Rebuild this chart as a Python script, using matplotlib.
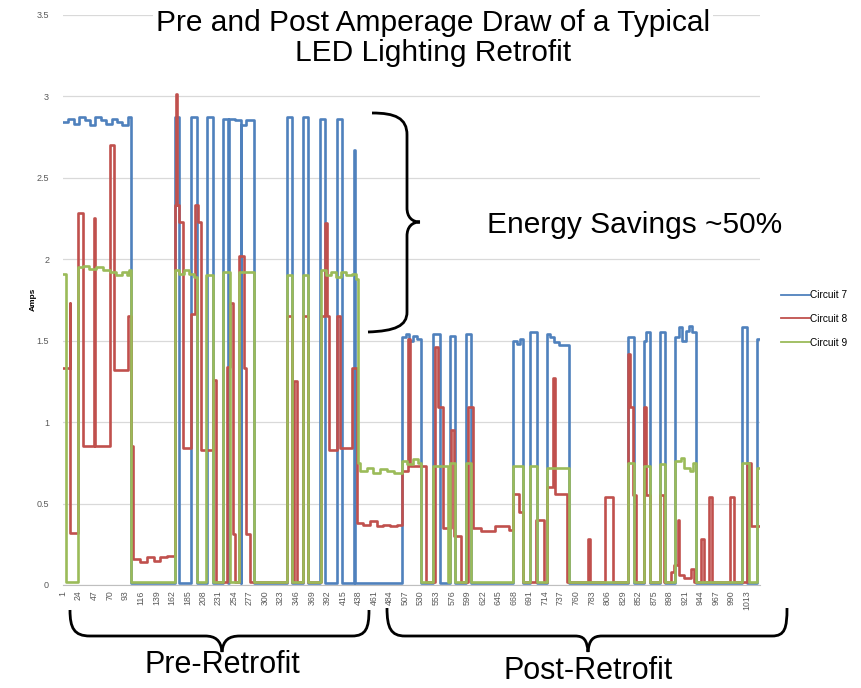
import matplotlib
matplotlib.use("Agg")
import matplotlib.pyplot as plt
from matplotlib.path import Path
from matplotlib.patches import PathPatch

plt.rcParams['font.family'] = ['Liberation Sans', 'DejaVu Sans']

# change points: (sample number, amps), held until the next point
c7_x = [1, 9, 17, 25, 33, 41, 49, 57, 65, 73, 81, 89, 97, 101,
        166, 173, 190, 199, 214, 223, 238, 245, 246, 256, 264, 265, 272, 283,
        333, 340, 356, 364, 381, 388, 406, 413, 431, 433,
        503, 508, 513, 518, 524, 531, 549, 558, 573, 581, 597, 605,
        667, 672, 677, 682, 692, 702, 717, 722, 728, 735, 749,
        837, 845, 860, 864, 869, 884, 892, 907, 912, 917, 922, 927, 932, 938,
        1006, 1013, 1027, 1032]
c7_y = [2.84, 2.86, 2.83, 2.87, 2.85, 2.82, 2.87, 2.85, 2.83, 2.86, 2.84, 2.82, 2.87, 0.01,
        2.87, 0.01, 2.87, 0.01, 2.87, 0.01, 2.86, 0.01, 2.86, 2.85, 0.01, 2.82, 2.85, 0.01,
        2.87, 0.01, 2.87, 0.01, 2.86, 0.01, 2.86, 0.01, 2.67, 0.01,
        1.52, 1.54, 1.50, 1.53, 1.51, 0.01, 1.54, 0.01, 1.53, 0.01, 1.54, 0.01,
        1.50, 1.48, 1.51, 0.01, 1.55, 0.01, 1.54, 1.52, 1.49, 1.47, 0.01,
        1.52, 0.01, 1.50, 1.55, 0.01, 1.55, 0.01, 1.52, 1.58, 1.50, 1.56, 1.59, 1.55, 0.01,
        1.58, 0.01, 1.51, 1.51]

c8_x = [1, 11, 12, 23, 31, 47, 49, 71, 77, 97, 101, 104, 115, 125, 135, 145, 155,
        166, 168, 169, 173, 178, 191, 196, 201, 205, 223, 228,
        243, 248, 253, 256, 262, 268, 271, 278,
        333, 340, 343, 347, 356, 364, 383, 388, 391, 394, 406, 411, 428,
        436, 445, 455, 465, 475, 485, 495, 503, 511, 514, 538,
        551, 556, 563, 575, 580, 590, 600, 607, 620, 640, 660,
        667, 675, 682, 700, 712, 717, 726, 729, 746,
        778, 780, 802, 815, 837, 840, 844, 848, 860, 864, 870, 884, 890,
        900, 905, 910, 912, 920, 930, 935, 944, 949, 956, 961, 988, 993,
        1013, 1018, 1032]
c8_y = [1.33, 1.73, 0.32, 2.28, 0.85, 2.25, 0.85, 2.70, 1.32, 1.65, 0.85, 0.16, 0.14, 0.17, 0.15, 0.17, 0.18,
        2.33, 3.01, 2.33, 2.23, 0.84, 1.66, 2.33, 2.23, 0.83, 1.26, 0.02,
        1.34, 1.73, 0.31, 0.02, 2.02, 1.33, 0.31, 0.02,
        1.65, 0.02, 1.25, 0.02, 1.65, 0.02, 1.65, 2.22, 1.65, 0.83, 1.65, 0.84, 1.33,
        0.38, 0.37, 0.39, 0.36, 0.37, 0.36, 0.37, 0.70, 1.51, 0.73, 0.02,
        1.46, 1.09, 0.35, 0.95, 0.30, 0.02, 1.09, 0.35, 0.33, 0.36, 0.34,
        0.56, 0.45, 0.02, 0.40, 0.02, 0.60, 1.27, 0.56, 0.02,
        0.28, 0.02, 0.54, 0.02, 1.42, 1.09, 0.55, 0.02, 1.09, 0.55, 0.02, 0.55, 0.02,
        0.08, 0.12, 0.40, 0.06, 0.04, 0.10, 0.02, 0.28, 0.02, 0.54, 0.02, 0.54, 0.02,
        0.75, 0.36, 0.36]

c9_x = [1, 6, 23, 30, 40, 50, 60, 70, 80, 88, 95, 99, 101,
        166, 172, 180, 188, 195, 199, 213, 223, 238, 248, 262, 283,
        333, 340, 356, 364, 383, 390, 398, 405, 412, 420, 428, 435,
        437, 440, 450, 460, 470, 480, 490, 503, 510, 518, 526, 531,
        549, 571, 574, 581, 597, 605, 667, 682, 692, 702, 717, 749,
        837, 845, 860, 869, 884, 892, 907, 915, 920, 928, 933, 938,
        1006, 1015, 1027, 1032]
c9_y = [1.91, 0.02, 1.95, 1.96, 1.94, 1.95, 1.93, 1.92, 1.90, 1.92, 1.90, 1.93, 0.02,
        1.93, 1.91, 1.93, 1.91, 1.89, 0.02, 1.90, 0.02, 1.92, 0.02, 1.92, 0.02,
        1.90, 0.02, 1.90, 0.02, 1.93, 1.90, 1.92, 1.89, 1.92, 1.90, 1.91, 1.88,
        0.75, 0.70, 0.72, 0.69, 0.71, 0.70, 0.69, 0.76, 0.74, 0.77, 0.75, 0.02,
        0.73, 0.02, 0.75, 0.02, 0.75, 0.02, 0.73, 0.02, 0.73, 0.02, 0.72, 0.02,
        0.75, 0.02, 0.73, 0.02, 0.74, 0.02, 0.76, 0.78, 0.72, 0.70, 0.75, 0.02,
        0.75, 0.02, 0.72, 0.72]

series = [('Circuit 7', c7_x, c7_y, '#4F81BD'),
          ('Circuit 8', c8_x, c8_y, '#C0504D'),
          ('Circuit 9', c9_x, c9_y, '#9BBB59')]

tick_pos = list(range(1, 1014, 23))
y_ticks = [0, 0.5, 1, 1.5, 2, 2.5, 3, 3.5]
y_labels = ['0', '0.5', '1', '1.5', '2', '2.5', '3', '3.5']

W, H = 862, 688
fig = plt.figure(figsize=(W / 100, H / 100), dpi=100)
ax = fig.add_axes([63 / W, 103 / H, 697 / W, 570.5 / H])

for name, xs, ys, col in series:
    ax.step(xs, ys, where='post', color=col, lw=1.9, label=name)

ax.set_xlim(1, 1032)
ax.set_ylim(0, 3.5)
ax.set_yticks(y_ticks)
ax.set_yticklabels(y_labels, fontsize=6.5, color='#595959')
ax.set_xticks(tick_pos)
ax.set_xticklabels([str(t) for t in tick_pos], rotation=90, fontsize=6.3, color='#595959')
ax.tick_params(length=0)
ax.tick_params(axis='y', pad=10)
ax.tick_params(axis='x', pad=4)
ax.grid(axis='y', color='#D9D9D9', lw=0.9)
ax.set_axisbelow(True)
for s in ['top', 'right', 'left']:
    ax.spines[s].set_visible(False)
ax.spines['bottom'].set_color('#BFBFBF')

ax.set_ylabel('Amps', fontsize=6, fontweight='bold')
ax.yaxis.set_label_coords(-0.038, 0.5)

leg = ax.legend(loc='upper left', bbox_to_anchor=(772 / W, 1 - 281 / H),
                bbox_transform=fig.transFigure, frameon=False, fontsize=7.3,
                handlelength=2.8, handletextpad=0.05, labelspacing=1.35)
for line in leg.get_lines():
    line.set_linewidth(1.3)

fig.text(433 / W, 1 - 38 / H, 'Pre and Post Amperage Draw of a Typical\nLED Lighting Retrofit',
         ha='center', va='center', fontsize=21.5, linespacing=1.08,
         bbox=dict(facecolor='white', edgecolor='none', pad=2))
fig.text(487 / W, 1 - 225 / H, 'Energy Savings ~50%', ha='left', va='center', fontsize=21.5)
fig.text(222 / W, 1 - 665 / H, 'Pre-Retrofit', ha='center', va='center', fontsize=22)
fig.text(588 / W, 1 - 671 / H, 'Post-Retrofit', ha='center', va='center', fontsize=22)


def brace(points):
    # points in image pixels (y down): start, then groups for the path codes below
    codes = [Path.MOVETO] + [Path.CURVE4] * 3 + [Path.LINETO] + [Path.CURVE4] * 6 \
        + [Path.LINETO] + [Path.CURVE4] * 3
    verts = [(x / W, 1 - y / H) for x, y in points]
    fig.patches.append(PathPatch(Path(verts, codes), transform=fig.transFigure,
                                 fill=False, lw=2, edgecolor='black'))


brace([(372, 113), (395, 113), (407, 118), (407, 135), (407, 208),
       (407, 217), (412, 222), (420, 222), (412, 222), (407, 227), (407, 236),
       (407, 312), (407, 326), (395, 331), (368, 332)])
brace([(70, 610), (70, 628), (74, 636), (90, 636), (205, 636),
       (215, 636), (221, 640), (222, 652), (223, 640), (229, 636), (240, 636),
       (352, 636), (366, 636), (369, 628), (369, 610)])
brace([(387, 608), (387, 628), (391, 636), (405, 636), (575, 636),
       (584, 636), (587, 640), (588, 652), (589, 640), (593, 636), (602, 636),
       (772, 636), (785, 636), (787, 628), (787, 608)])

fig.savefig('out.png', dpi=100)
